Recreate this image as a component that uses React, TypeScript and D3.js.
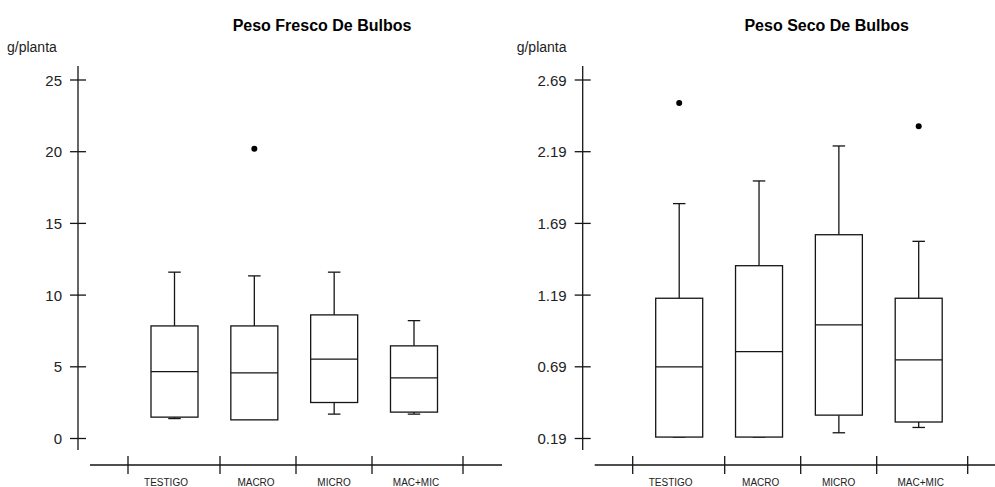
import React from "react";
import * as d3 from "d3";

// Treatments on the x axis
const categories = ["TESTIGO", "MACRO", "MICRO", "MAC+MIC"];

// Peso fresco de bulbos (g/planta)
const freshLow = [1.39, 1.39, 1.7, 1.7];
const freshQ1 = [1.49, 1.3, 2.51, 1.84];
const freshMedian = [4.67, 4.58, 5.53, 4.23];
const freshQ3 = [7.85, 7.85, 8.62, 6.46];
const freshHigh = [11.6, 11.34, 11.6, 8.22];
const freshOutliers = [{ cat: "MACRO", value: 20.2 }];
const freshTicks = [0, 5, 10, 15, 20, 25];

// Peso seco de bulbos (g/planta)
const dryLow = [0.2, 0.2, 0.23, 0.267];
const dryQ1 = [0.2, 0.2, 0.353, 0.305];
const dryMedian = [0.69, 0.796, 0.982, 0.738];
const dryQ3 = [1.168, 1.395, 1.611, 1.168];
const dryHigh = [1.828, 1.986, 2.23, 1.565];
const dryOutliers = [
  { cat: "TESTIGO", value: 2.53 },
  { cat: "MAC+MIC", value: 2.368 },
];
const dryTicks = [0.19, 0.69, 1.19, 1.69, 2.19, 2.69];
const dryTickLabels = ["0.19", "0.69", "1.19", "1.69", "2.19", "2.69"];

// Layout (pixels relative to the y axis of each panel)
const dividerOffsets = [50, 142, 218, 294, 385];
const labelOffsets = [88, 178, 256, 338];
const FONT = "'Liberation Sans', Arial, sans-serif";
const INK = "#151515";

type PanelProps = {
  ox: number;
  title: string;
  domain: [number, number];
  ticks: number[];
  tickLabels: string[];
  low: number[];
  q1: number[];
  median: number[];
  q3: number[];
  high: number[];
  outliers: { cat: string; value: number }[];
  unitDx: number;
};

function Panel(p: PanelProps) {
  const y = d3.scaleLinear().domain(p.domain).range([438.5, 80]);
  const x = d3
    .scalePoint<string>()
    .domain(categories)
    .range([p.ox + 96.5, p.ox + 336]);
  const boxW = 47;
  const capW = 12.5;
  return (
    <g>
      <text
        x={p.ox + 244}
        y={31}
        textAnchor="middle"
        fontFamily={FONT}
        fontWeight="bold"
        fontSize={16}
        fill="#000"
      >
        {p.title}
      </text>
      <text x={p.ox + p.unitDx} y={52} fontFamily={FONT} fontSize={14} fill="#222">
        g/planta
      </text>
      {/* y axis */}
      <line x1={p.ox} x2={p.ox} y1={66} y2={450} stroke={INK} strokeWidth={1.3} />
      {p.ticks.map((t, i) => (
        <g key={i}>
          <line x1={p.ox - 8} x2={p.ox + 8} y1={y(t)} y2={y(t)} stroke={INK} strokeWidth={1.3} />
          <text
            x={p.ox - 16}
            y={y(t)}
            textAnchor="end"
            dominantBaseline="central"
            fontFamily={FONT}
            fontSize={15}
            fill="#222"
          >
            {p.tickLabels[i]}
          </text>
        </g>
      ))}
      {/* x axis */}
      <line x1={p.ox + 12} x2={p.ox + 424} y1={465} y2={465} stroke={INK} strokeWidth={1.3} />
      {dividerOffsets.map((d, i) => (
        <line key={i} x1={p.ox + d} x2={p.ox + d} y1={456} y2={474} stroke={INK} strokeWidth={1.3} />
      ))}
      {categories.map((c, i) => (
        <text
          key={c}
          x={p.ox + labelOffsets[i]}
          y={486}
          textAnchor="middle"
          fontFamily={FONT}
          fontSize={10}
          fill="#222"
        >
          {c}
        </text>
      ))}
      {/* boxes */}
      {categories.map((c, i) => {
        const cx = x(c) as number;
        return (
          <g key={c} stroke={INK} strokeWidth={1.3} fill="none">
            <line x1={cx} x2={cx} y1={y(p.q3[i])} y2={y(p.high[i])} />
            <line x1={cx - capW / 2} x2={cx + capW / 2} y1={y(p.high[i])} y2={y(p.high[i])} />
            <line x1={cx} x2={cx} y1={y(p.q1[i])} y2={y(p.low[i])} />
            <line x1={cx - capW / 2} x2={cx + capW / 2} y1={y(p.low[i])} y2={y(p.low[i])} />
            <rect
              x={cx - boxW / 2}
              y={y(p.q3[i])}
              width={boxW}
              height={y(p.q1[i]) - y(p.q3[i])}
              fill="#fff"
            />
            <line x1={cx - boxW / 2} x2={cx + boxW / 2} y1={y(p.median[i])} y2={y(p.median[i])} />
          </g>
        );
      })}
      {p.outliers.map((o, i) => (
        <circle key={i} cx={x(o.cat) as number} cy={y(o.value)} r={3} fill="#000" />
      ))}
    </g>
  );
}

export default function App() {
  return (
    <div style={{ position: "fixed", left: 0, top: 0 }}>
      <svg width={995} height={487} style={{ display: "block", background: "#fff" }}>
        <rect width={995} height={487} fill="#fff" />
        <Panel
          ox={78}
          title="Peso Fresco De Bulbos"
          domain={[0, 25]}
          ticks={freshTicks}
          tickLabels={freshTicks.map(String)}
          low={freshLow}
          q1={freshQ1}
          median={freshMedian}
          q3={freshQ3}
          high={freshHigh}
          outliers={freshOutliers}
          unitDx={-71}
        />
        <Panel
          ox={582.7}
          title="Peso Seco De Bulbos"
          domain={[0.19, 2.69]}
          ticks={dryTicks}
          tickLabels={dryTickLabels}
          low={dryLow}
          q1={dryQ1}
          median={dryMedian}
          q3={dryQ3}
          high={dryHigh}
          outliers={dryOutliers}
          unitDx={-66}
        />
      </svg>
    </div>
  );
}
